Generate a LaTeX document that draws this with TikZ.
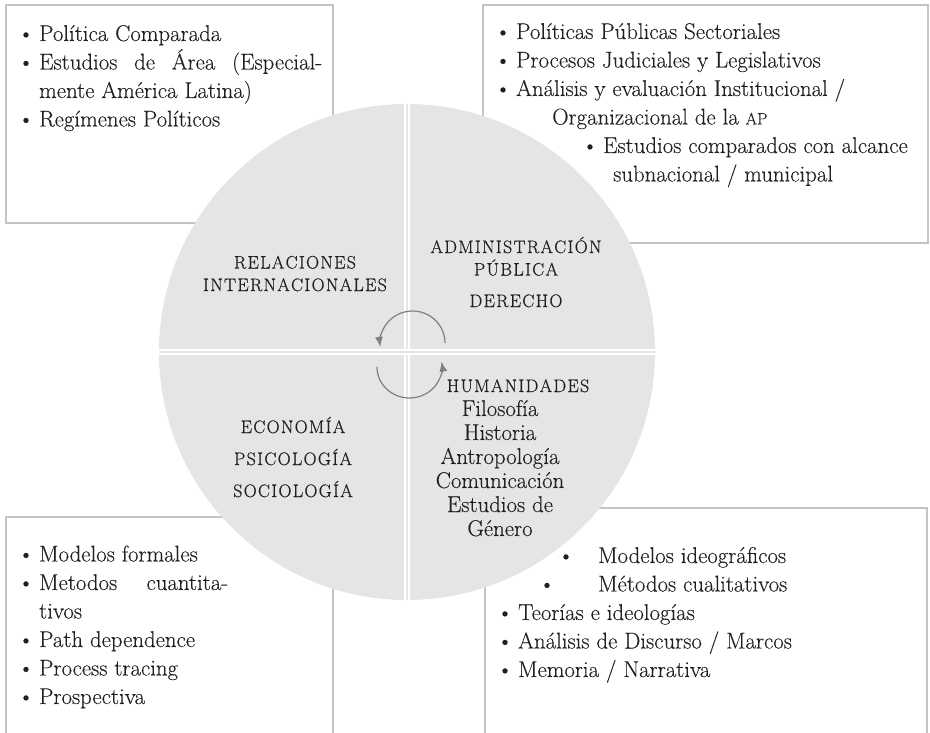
\documentclass[tikz,border=0pt]{standalone}
\usepackage{fontspec}
\setmainfont{lmroman17-regular.otf}[FakeBold=0.2]
\usetikzlibrary{arrows.meta}

\definecolor{discgray}{RGB}{229,229,230}
\definecolor{framegray}{RGB}{196,196,196}
\definecolor{loopgray}{RGB}{128,128,128}
\definecolor{ink}{RGB}{35,31,32}

\newfontfamily\capsfamily{Latin Modern Roman}[FakeBold=0.5]
\newcommand{\capsfont}{\capsfamily\fontsize{18}{22.5}\selectfont}
% spaced capitals, one kern between letters
\newlength{\trackamount}
\setlength{\trackamount}{1.3pt}
\def\track#1{\trackfirst#1\relax}
\def\trackfirst#1{#1\trackrest}
\def\trackrest#1{\ifx#1\relax\else\kern\trackamount#1\expandafter\trackrest\fi}
\newcommand{\bul}{\llap{\textbullet\hspace{5pt}}}

\begin{document}
\begin{tikzpicture}[x=1pt, y=-1pt, font=\fontsize{22.8}{28.5}\selectfont,
  frame/.style={draw=framegray, line width=2.8pt},
  itemlist/.style={anchor=base west, align=left, inner sep=0pt, text=ink},
  area/.style={anchor=base, align=center, inner sep=0pt, text=ink},
  divider/.style={draw=white, line width=1.4pt, double=discgray, double distance=2.4pt},
  loop/.style={draw=loopgray, line width=1.2pt, -{Latex[length=10pt,width=8pt]}}]
	\useasboundingbox (0,0) rectangle (930,733);
	%boxes
	\draw[frame] (6,5) rectangle (333,223);
	\draw[frame] (483,5) rectangle (928,243);
	\draw[frame] (6,517) rectangle (333,745);
	\draw[frame] (485,508) rectangle (927,745);
	%disc
	\fill[discgray] (407,352) circle[radius=248];
	\begin{scope}
		\clip (407,352) circle[radius=248];
		\draw[divider] (407,100) -- (407,604);
		\draw[divider] (155,352) -- (659,352);
	\end{scope}
	%loops
	\coordinate (upper start) at (445,343);
	\coordinate (lower start) at (377,367);
	\draw[loop] (upper start) arc[start angle=0, end angle=-187, x radius=32.5, y radius=32];
	\draw[loop] (lower start) arc[start angle=180, end angle=-10, x radius=32.5, y radius=31];
	%disc labels (base = last line)
	\node[area, font=\capsfont] (relint) at (295,291) {\track{RELACIONES}\\\track{INTERNACIONALES}};
	\node[area, font=\capsfont] (admin) at (516,307) {\track{ADMINISTRACIÓN}\\\track{PÚBLICA}\\[9pt]\track{DERECHO}};
	\node[area, font=\capsfont] (human) at (518,392) {\track{HUMANIDADES}};
	\node[area, font=\fontsize{22.8}{24}\selectfont] (humlist) at (500,536)
		{Filosofía\\Historia\\Antropología\\Comunicación\\Estudios de\\Género};
	\node[area, font=\capsfont] (econ) at (293,497) {\track{ECONOMÍA}\\[9.5pt]\track{PSICOLOGÍA}\\[9.5pt]\track{SOCIOLOGÍA}};
	%box texts
	\node[itemlist] (toplist) at (39,126.5) {\bul Política Comparada\\
		\bul\hbox to 283pt{Estudios\hfill de\hfill Área\hfill (Especial-}\\
		mente América Latina)\\
		\bul Regímenes Políticos};
	\node[itemlist] (publist) at (516,181.5) {\bul Políticas Públicas Sectoriales\\
		\bul Procesos Judiciales y Legislativos\\
		\bul Análisis y evaluación Institucional /\\
		\hspace*{36pt}Organizacional de la {\fontsize{16.5}{18}\selectfont AP}\\
		\hspace*{87pt}\bul Estudios comparados con alcance\\
		\hspace*{97pt}subnacional / municipal};
	\node[itemlist] (methlist) at (39,704) {\bul Modelos formales\\
		\bul\hbox to 189pt{Metodos\hfill cuantita-}\\
		tivos\\
		\bul Path dependence\\
		\bul Process tracing\\
		\bul Prospectiva};
	\node[itemlist] (qualist) at (518,677) {\hspace*{80pt}\llap{\textbullet\hspace{24pt}}Modelos ideográficos\\
		\hspace*{80pt}\llap{\textbullet\hspace{43pt}}Métodos cualitativos\\
		\bul Teorías e ideologías\\
		\bul Análisis de Discurso / Marcos\\
		\bul Memoria / Narrativa};
\end{tikzpicture}
\end{document}
